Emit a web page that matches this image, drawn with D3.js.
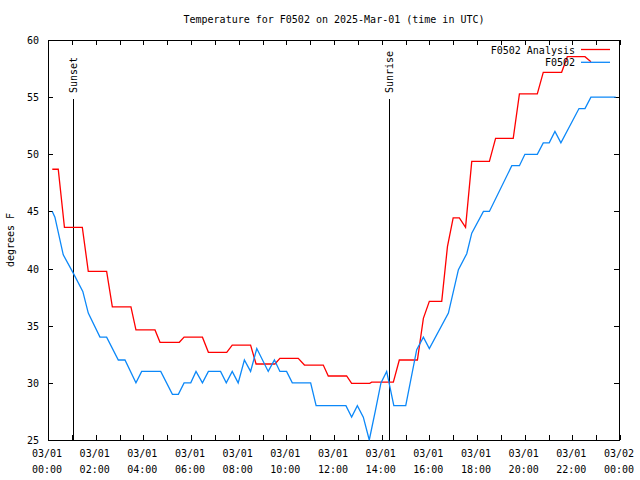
<!DOCTYPE html>
<html><head><meta charset="utf-8">
<script src="https://cdn.jsdelivr.net/npm/d3@7"></script>
<style>body{margin:0;background:#fff}svg{display:block}text{font-family:"DejaVu Sans Mono",monospace;font-size:10px;fill:#000}</style>
</head><body>
<script>
const title = "Temperature for F0502 on 2025-Mar-01 (time in UTC)";
const yLabel = "degrees F";
const seriesNames = ["F0502 Analysis", "F0502"];
const tickHours = [0,2,4,6,8,10,12,14,16,18,20,22,24];
const tickDates = ["03/01","03/01","03/01","03/01","03/01","03/01","03/01","03/01","03/01","03/01","03/01","03/01","03/02"];
const tickTimes = ["00:00","02:00","04:00","06:00","08:00","10:00","12:00","14:00","16:00","18:00","20:00","22:00","00:00"];
const yTicks = [25,30,35,40,45,50,55,60];
const events = [{name:"Sunset", hour:1.06},{name:"Sunrise", hour:14.32}];

const analysisHours = [0.18,0.43,0.69,1.44,1.69,2.46,2.70,3.48,3.69,4.49,4.70,5.51,5.71,6.48,6.73,7.50,7.73,8.50,8.73,9.52,9.73,10.50,10.76,11.55,11.76,12.53,12.74,13.50,13.58,14.49,14.74,15.50,15.75,16.00,16.52,16.76,17.00,17.26,17.52,17.78,18.52,18.78,19.52,19.78,20.53,20.78,21.55,21.79,22.53,22.78];
const analysisTemps = [48.69,48.69,43.61,43.61,39.76,39.76,36.64,36.64,34.63,34.63,33.55,33.55,34.0,34.0,32.67,32.67,33.31,33.31,31.65,31.65,32.14,32.14,31.56,31.56,30.6,30.6,29.96,29.96,30.06,30.06,32.0,32.0,35.64,37.13,37.13,41.92,44.43,44.43,43.61,49.38,49.38,51.4,51.4,55.28,55.28,57.17,57.17,58.54,58.54,58.1];

const obsHours = [0.18,0.29,0.64,1.06,1.46,1.69,2.18,2.46,2.95,3.23,3.69,3.93,4.73,5.22,5.47,5.71,5.99,6.21,6.48,6.73,7.24,7.48,7.73,7.98,8.24,8.50,8.76,9.24,9.50,9.73,10.01,10.25,11.02,11.25,12.50,12.74,12.98,13.23,13.48,13.73,13.97,14.21,14.51,15.01,15.47,15.75,16.00,16.80,17.22,17.57,17.78,18.27,18.52,19.46,19.78,20.01,20.53,20.78,21.03,21.27,21.52,22.28,22.53,22.78,23.82];
const obsTemps = [45,44.5,41.2,39.6,38.0,36.1,34,34,32,32,30,31,31,29,29,30,30,31,30,31,31,30,31,30,32,31,33,31,32,31,31,30,30,28,28,27,28,27,25,27.5,30,31,28,28,32.9,34,33,36.1,39.9,41.3,43.1,45,45,49,49,50,50,51,51,52,51,54,54,55,55];

const W = 640, H = 480;
const L = 48, R = 620, T = 40, B = 440;
const svg = d3.select("body").append("svg").attr("width", W).attr("height", H);
const x = d3.scaleLinear().domain([0,24]).range([L,R]);
const y = d3.scaleLinear().domain([25,60]).range([B,T]);

// frame
svg.append("rect").attr("x",L+0.5).attr("y",T+0.5).attr("width",R-L-1).attr("height",B-T)
  .attr("fill","none").attr("stroke","#000").attr("stroke-width",1).attr("shape-rendering","crispEdges");

// axes with inward ticks
const hourTicks = d3.range(0,25,1);
const gb = svg.append("g").attr("transform",`translate(0,${B})`)
  .call(d3.axisBottom(x).tickValues(hourTicks).tickSize(-5).tickFormat(""));
const gt = svg.append("g").attr("transform",`translate(0,${T})`)
  .call(d3.axisTop(x).tickValues(hourTicks).tickSize(-5).tickFormat(""));
const gl = svg.append("g").attr("transform",`translate(${L},0)`)
  .call(d3.axisLeft(y).tickValues(yTicks).tickSize(-5).tickFormat(""));
const gr = svg.append("g").attr("transform",`translate(${R-1},0)`)
  .call(d3.axisRight(y).tickValues(yTicks).tickSize(-5).tickFormat(""));
[gb,gt,gl,gr].forEach(g=>{g.select(".domain").remove();g.selectAll("line").attr("stroke","#000").attr("shape-rendering","crispEdges");});

// x tick labels
tickHours.forEach((h,i)=>{
  const t = svg.append("text").attr("x",x(h)).attr("text-anchor","middle");
  t.append("tspan").attr("x",x(h)-1).attr("y",457).text(tickDates[i]);
  t.append("tspan").attr("x",x(h)-1).attr("y",473).text(tickTimes[i]);
});
// y tick labels
yTicks.forEach(v=>{
  svg.append("text").attr("x",39).attr("y",y(v)+4).attr("text-anchor","end").text(v);
});
svg.append("text").attr("transform",`translate(14,${(T+B)/2}) rotate(-90)`).attr("text-anchor","middle").text(yLabel);
svg.append("text").attr("x",(L+R)/2).attr("y",23).attr("text-anchor","middle").text(title);

// sunset / sunrise
events.forEach(e=>{
  svg.append("line").attr("x1",Math.round(x(e.hour))+0.5).attr("x2",Math.round(x(e.hour))+0.5)
    .attr("y1",99).attr("y2",B).attr("stroke","#000").attr("stroke-width",1);
  svg.append("text").attr("transform",`translate(${x(e.hour)+4},93) rotate(-90)`).attr("text-anchor","start").text(e.name);
});

const line = d3.line().x(d=>x(d[0])).y(d=>y(d[1]));
const colors = ["#ff0000","#0c88f8"];
const analysis = analysisHours.map((h,i)=>[h,analysisTemps[i]]);
const obs = obsHours.map((h,i)=>[h,obsTemps[i]]);
svg.append("path").datum(analysis).attr("d",line).attr("fill","none").attr("stroke",colors[0]).attr("stroke-width",1.3);
svg.append("path").datum(obs).attr("d",line).attr("fill","none").attr("stroke",colors[1]).attr("stroke-width",1.3);

// legend
const legY = [49.5, 62.3];
seriesNames.forEach((n,i)=>{
  svg.append("text").attr("x",575).attr("y",legY[i]+4).attr("text-anchor","end").text(n);
  svg.append("line").attr("x1",581).attr("x2",610).attr("y1",legY[i]).attr("y2",legY[i])
    .attr("stroke",colors[i]).attr("stroke-width",1.3);
});
</script>
</body></html>
